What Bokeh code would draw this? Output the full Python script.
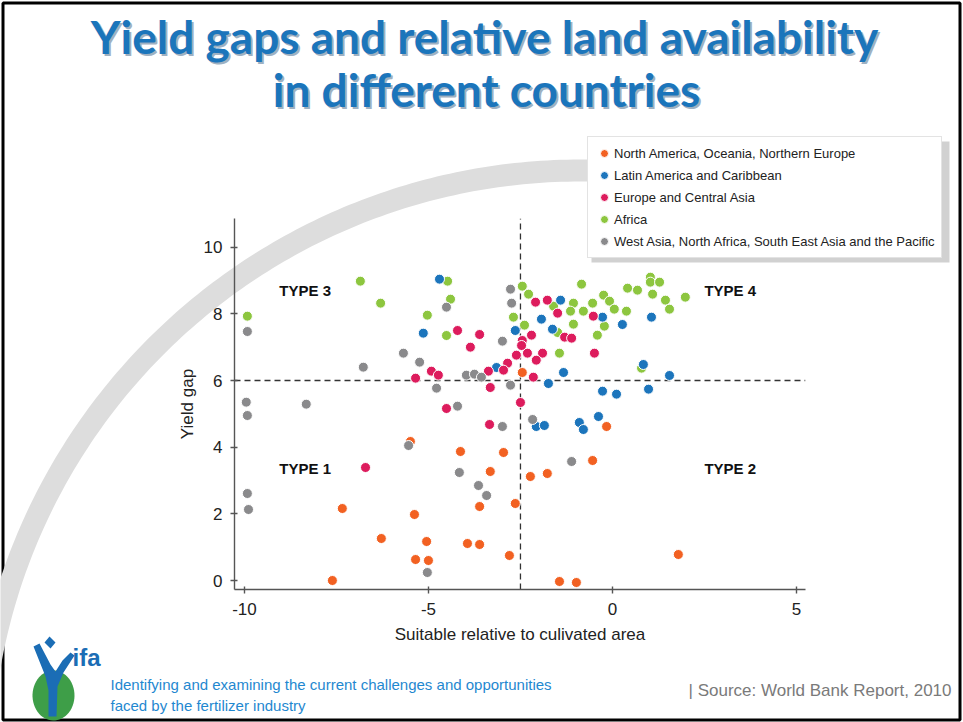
import numpy as np
from bokeh.plotting import figure
from bokeh.models import Range1d, Label, Legend, LegendItem, FixedTicker
from bokeh.embed import file_html
from bokeh.resources import INLINE

# ---------------- data ----------------
title_lines = ["Yield gaps and relative land availability", "in different countries"]
x_label = "Suitable relative to culivated area"
y_label = "Yield gap"
x_ticks = [-10, -5, 0, 5]
x_tick_labels = ["-10", "-5", "0", "5"]
y_ticks = [0, 2, 4, 6, 8, 10]
y_tick_labels = ["0", "2", "4", "6", "8", "10"]
x_split = -2.5
y_split = 6
quadrant_names = ["TYPE 1", "TYPE 2", "TYPE 3", "TYPE 4"]

series_names = [
    "North America, Oceania, Northern Europe",
    "Latin America and Caribbean",
    "Europe and Central Asia",
    "Africa",
    "West Asia, North Africa, South East Asia and the Pacific",
]

nao_x = [-7.61, -7.34, -6.28, -5.38, -5.35, -5.05, -5.00, -5.49, -4.13, -3.94, -3.61, -3.61,
         -3.32, -2.96, -2.64, -2.80, -2.23, -1.77, -1.44, -0.98, -0.54, -0.16, 1.79, -2.45]
nao_y = [0.00, 2.16, 1.26, 1.98, 0.63, 1.17, 0.60, 4.17, 3.87, 1.11, 1.08, 2.22,
         3.27, 3.84, 2.31, 0.75, 3.12, 3.21, -0.03, -0.06, 3.60, 4.62, 0.78, 6.24]

lac_x = [-4.70, -5.14, -1.41, -1.93, -1.63, -2.64, -3.15, -1.33, -1.74, -0.27, 0.27, 1.06,
         0.84, 1.55, -0.27, 0.11, 0.98, -2.07, -1.85, -0.90, -0.79, -0.38]
lac_y = [9.04, 7.42, 8.41, 7.84, 7.54, 7.50, 6.39, 6.24, 5.91, 7.90, 7.68, 7.90,
         6.48, 6.15, 5.68, 5.59, 5.74, 4.62, 4.65, 4.74, 4.53, 4.92]

eca_x = [-4.21, -3.61, -3.86, -2.09, -1.77, -1.49, -2.45, -2.20, -2.61, -2.31, -1.90, -2.85,
         -2.07, -2.96, -3.37, -4.92, -4.73, -5.35, -2.15, -3.32, -1.30, -1.11, -0.52, -0.49,
         -2.50, -4.51, -3.34, -6.71, -2.47]
eca_y = [7.50, 7.38, 7.00, 8.35, 8.41, 8.02, 7.20, 7.36, 6.76, 6.82, 6.82, 6.52,
         6.61, 6.31, 6.28, 6.28, 6.16, 6.07, 6.10, 5.79, 7.30, 7.27, 7.93, 6.82,
         5.34, 5.16, 4.68, 3.39, 7.05]

afr_x = [-6.85, -6.30, -9.92, -5.03, -4.48, -4.40, -4.51, -2.45, -2.28, -1.60, -2.69, -2.39,
         -1.49, -1.44, -1.06, -1.14, -1.06, -0.84, -0.79, -0.54, -0.41, -0.24, -0.08, 0.05,
         0.38, 0.41, 0.68, 1.03, 1.03, 1.28, 1.09, 1.44, 1.55, 1.98, -0.22, 0.79]
afr_y = [8.98, 8.32, 7.93, 7.96, 8.98, 8.44, 7.35, 8.83, 8.59, 8.23, 7.90, 7.66,
         7.44, 6.82, 8.32, 8.08, 7.69, 8.89, 8.08, 8.32, 7.36, 8.56, 8.38, 8.14,
         8.08, 8.77, 8.71, 9.10, 8.95, 8.95, 8.59, 8.41, 8.14, 8.50, 7.63, 6.37]

wan_x = [-9.95, -9.92, -8.32, -5.54, -9.92, -9.89, -5.03, -4.21, -2.99, -2.17, -1.11, -4.16,
         -3.64, -3.42, -9.92, -5.68, -5.24, -6.77, -2.77, -2.74, -4.51, -2.99, -3.97, -3.75,
         -3.56, -4.78, -2.77]
wan_y = [5.35, 4.95, 5.29, 4.05, 2.61, 2.13, 0.24, 5.23, 4.62, 4.83, 3.57, 3.24,
         2.85, 2.55, 7.47, 6.82, 6.55, 6.40, 8.74, 8.32, 8.20, 7.18, 6.16, 6.19,
         6.10, 5.77, 5.86]

footer_lines = ["Identifying and examining the current challenges and opportunities",
                "faced by the fertilizer industry"]
source_text = "| Source: World Bank Report, 2010"
logo_text = "ifa"

# ---------------- styling / layout ----------------
colors = ["#f26122", "#1c75bc", "#dd1c5d", "#8dc63f", "#8a8a8c"]
FONT = "Liberation Sans"
W, H = 963, 722
X0, X1 = -10.27, 5.245          # data extent of the axes box
Y0, Y1 = -0.27, 10.86
FL, FR, FT, FB = 234, 805, 218, 589   # page pixels of the axes box

# ======== background page figure (page pixel coordinates) ========
bg = figure(width=W, height=H, output_backend="svg", toolbar_location=None, title=None,
            x_range=Range1d(0, W), y_range=Range1d(H, 0),
            x_axis_type=None, y_axis_type=None, min_border=0)
bg.outline_line_color = None
bg.background_fill_color = "white"
bg.border_fill_color = "white"

# slide frame
bg.quad(left=[2.5], right=[959.5], top=[2.5], bottom=[719.5], fill_color=None,
        line_color="black", line_width=3)

# grey swoosh
CX, CY, R, BW = 580, 770, 600, 22
phi = np.radians(np.linspace(74, 172, 160))
ox = CX + (R + BW / 2) * np.cos(phi)
oy = CY - (R + BW / 2) * np.sin(phi)
ix = CX + (R - BW / 2) * np.cos(phi[::-1])
iy = CY - (R - BW / 2) * np.sin(phi[::-1])
bg.patch(np.concatenate([ox, ix]), np.concatenate([oy, iy]), fill_color="#dddddd",
         line_color=None)

# title with soft shadow
title_pos = [(484, 36), (486, 89)]
for txt, (tx, ty) in zip(title_lines, title_pos):
    bg.add_layout(Label(x=tx + 2, y=ty + 2, text=txt, text_align="center",
                        text_baseline="alphabetic", text_font="Lato", text_font_style="bold",
                        text_font_size="46px", text_color="#9fb1c2"))
    bg.add_layout(Label(x=tx, y=ty, text=txt, text_align="center",
                        text_baseline="alphabetic", text_font="Lato", text_font_style="bold",
                        text_font_size="46px", text_color="#1b75bb"))

# footer
for txt, ty in zip(footer_lines, [684, 705]):
    bg.add_layout(Label(x=110, y=ty, text=txt, text_align="left", text_baseline="alphabetic",
                        text_font=FONT, text_font_size="15px", text_color="#1f88d0"))
bg.add_layout(Label(x=688, y=690, text=source_text, text_align="left",
                    text_baseline="alphabetic", text_font=FONT, text_font_size="17px",
                    text_color="#7a7a7a"))

# logo
t = np.linspace(0, 2 * np.pi, 60)
bg.patch(53 + 21 * np.cos(t), 695 + 25 * np.sin(t), fill_color="#3e9e48", line_color=None)
body = [(33, 646), (39, 643), (50, 664), (55, 671), (62, 660), (70, 652), (74, 655),
        (63, 672), (57, 686), (56, 716), (48, 716), (48, 690), (45, 676)]
bg.patch([a for a, b in body], [b for a, b in body], fill_color="#1b6db5", line_color=None)
head = [(49, 636), (55, 642), (50, 648), (44, 642)]
bg.patch([a for a, b in head], [b for a, b in head], fill_color="#1b6db5", line_color=None)
bg.add_layout(Label(x=72, y=657, text=logo_text, text_align="left", text_baseline="alphabetic",
                    text_font=FONT, text_font_style="bold", text_font_size="24px",
                    text_color="#1b6db5"))

# legend (with shadow) on the page layer
LX0, LX1, LY0, LY1 = 587, 945, 137, 258
bg.quad(left=[LX0 + 4], right=[LX1 + 4], top=[LY0 + 4], bottom=[LY1 + 4],
        fill_color="#9a9a9a", fill_alpha=0.45, line_color=None)
keys = [bg.scatter([np.nan], [np.nan], size=10, fill_color=c, line_color="white", line_width=1)
        for c in colors]
legend = Legend(items=[LegendItem(label=series_names[i], renderers=[keys[i]]) for i in range(5)],
                location=(LX0, H - LY1))
legend.border_line_color = "#c8c8c8"
legend.border_line_width = 1
legend.background_fill_color = "white"
legend.background_fill_alpha = 1.0
legend.label_text_font = FONT
legend.label_text_font_size = "13px"
legend.label_text_color = "#222222"
legend.glyph_width = 20
legend.glyph_height = 20
legend.label_height = 16
legend.spacing = 2
legend.padding = 6
legend.margin = 0
legend.label_standoff = 0
bg.add_layout(legend)

# ======== chart figure (overlaid, transparent) ========
p = figure(width=W, height=H, output_backend="svg", toolbar_location=None, title=None,
           x_range=Range1d(X0, X1), y_range=Range1d(Y0, Y1),
           min_border_left=FL, min_border_right=W - FR, min_border_top=FT,
           min_border_bottom=H - FB)
p.margin = (-H, 0, 0, 0)
p.outline_line_color = None
p.xgrid.visible = False
p.ygrid.visible = False
p.background_fill_alpha = 0
p.border_fill_alpha = 0

p.xaxis.ticker = FixedTicker(ticks=x_ticks)
p.yaxis.ticker = FixedTicker(ticks=y_ticks)
p.xaxis.major_label_overrides = {t_: s for t_, s in zip(x_ticks, x_tick_labels)}
p.yaxis.major_label_overrides = {t_: s for t_, s in zip(y_ticks, y_tick_labels)}
for ax in (p.xaxis[0], p.yaxis[0]):
    ax.axis_line_color = "#555555"
    ax.axis_line_width = 1.4
    ax.major_tick_line_color = "#555555"
    ax.major_tick_line_width = 1.4
    ax.major_tick_in = 3
    ax.major_tick_out = 4
    ax.minor_tick_line_color = None
    ax.major_label_text_font = FONT
    ax.major_label_text_font_size = "17px"
    ax.major_label_text_color = "#222222"
    ax.axis_label_text_font = FONT
    ax.axis_label_text_font_size = "17px"
    ax.axis_label_text_font_style = "normal"
    ax.axis_label_text_color = "#222222"
p.xaxis.axis_label = x_label
p.yaxis.axis_label = y_label
p.xaxis.major_label_standoff = 9
p.yaxis.major_label_standoff = 8
p.xaxis.axis_label_standoff = 7
p.yaxis.axis_label_standoff = 4

# quadrant split lines
p.segment(x0=[x_split, X0], y0=[Y0, y_split], x1=[x_split, X1], y1=[Y1, y_split],
          line_color="#333333", line_dash="6 4", line_width=1.3)

# scatter series
order = [3, 1, 2, 0, 4]
xs_all = [nao_x, lac_x, eca_x, afr_x, wan_x]
ys_all = [nao_y, lac_y, eca_y, afr_y, wan_y]
for i in order:
    p.scatter(xs_all[i], ys_all[i], size=10, fill_color=colors[i],
              line_color="white", line_width=1)

# quadrant labels
quad_pos = [(-8.35, 3.35), (3.2, 3.35), (-8.35, 8.7), (3.2, 8.7)]
for name, (qx, qy) in zip(quadrant_names, quad_pos):
    p.add_layout(Label(x=qx, y=qy, text=name, text_align="center", text_baseline="middle",
                       text_font=FONT, text_font_style="bold", text_font_size="15px",
                       text_color="#111111"))

open("out.html", "w").write(file_html([bg, p], INLINE))
